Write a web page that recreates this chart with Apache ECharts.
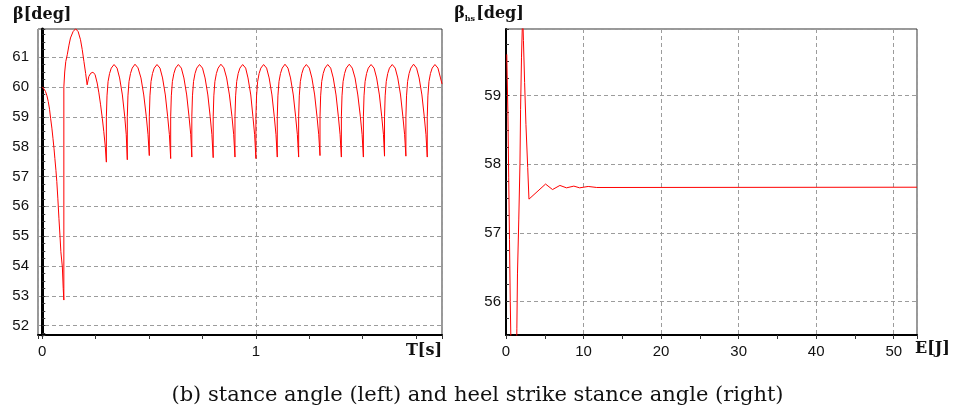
<!DOCTYPE html>
<html><head><meta charset="utf-8">
<script src="https://cdn.jsdelivr.net/npm/echarts@6/dist/echarts.min.js"></script>
<style>html,body{margin:0;padding:0;background:#fff}#c{width:955px;height:413px}</style>
</head><body><div id="c"></div>
<script>
// ---- data: stance angle beta [deg] vs time T [s] (left) ----
const stanceAngle = [
 [0,60.00],[0.008,59.93],[0.015,59.85],[0.022,59.70],[0.028,59.51],[0.034,59.25],[0.039,58.95],[0.045,58.62],[0.050,58.28],[0.055,57.93],[0.059,57.60],[0.064,57.20],[0.068,56.83],[0.073,56.25],[0.078,55.60],[0.083,55.00],[0.087,54.48],[0.094,53.97],[0.098,53.25],[0.101,52.86],
 [0.101,60.00],[0.105,60.50],[0.110,60.85],[0.117,61.08],[0.125,61.40],[0.132,61.64],[0.144,61.85],[0.156,61.95],[0.168,61.85],[0.179,61.58],[0.187,61.25],[0.195,60.85],[0.203,60.45],[0.210,60.07],[0.218,60.35],[0.227,60.46],[0.237,60.49],[0.247,60.42],[0.257,60.13],[0.265,59.80],[0.273,59.40],[0.281,58.95],[0.288,58.50],[0.295,58.00],[0.300,57.48],
 [0.300,59.00],[0.303,59.70],[0.308,60.18],[0.315,60.45],[0.323,60.63],[0.336,60.75],[0.350,60.63],[0.362,60.30],[0.375,59.73],[0.386,59.00],[0.393,58.40],[0.398,57.56],
 [0.398,59.00],[0.401,59.70],[0.406,60.18],[0.413,60.45],[0.421,60.63],[0.434,60.76],[0.448,60.64],[0.462,60.30],[0.475,59.73],[0.487,59.00],[0.495,58.40],[0.501,57.70],
 [0.501,59.00],[0.504,59.70],[0.509,60.18],[0.516,60.45],[0.524,60.63],[0.537,60.75],[0.551,60.63],[0.563,60.30],[0.576,59.73],[0.587,59.00],[0.595,58.40],[0.601,57.60],
 [0.601,59.00],[0.604,59.70],[0.609,60.18],[0.616,60.45],[0.624,60.63],[0.637,60.75],[0.651,60.63],[0.663,60.30],[0.676,59.73],[0.687,59.00],[0.695,58.40],[0.700,57.65],
 [0.700,59.00],[0.703,59.70],[0.708,60.18],[0.715,60.45],[0.723,60.63],[0.736,60.75],[0.750,60.63],[0.762,60.30],[0.775,59.73],[0.786,59.00],[0.794,58.40],[0.800,57.63],
 [0.800,59.00],[0.803,59.70],[0.808,60.18],[0.815,60.45],[0.823,60.63],[0.836,60.76],[0.850,60.64],[0.863,60.30],[0.876,59.73],[0.888,59.00],[0.896,58.40],[0.902,57.65],
 [0.902,59.00],[0.905,59.70],[0.910,60.18],[0.917,60.45],[0.925,60.63],[0.938,60.75],[0.952,60.63],[0.963,60.30],[0.976,59.73],[0.986,59.00],[0.994,58.40],[1.000,57.60],
 [1.000,59.00],[1.003,59.70],[1.008,60.18],[1.015,60.45],[1.023,60.63],[1.036,60.75],[1.050,60.63],[1.062,60.30],[1.075,59.73],[1.086,59.00],[1.094,58.40],[1.100,57.65],
 [1.100,59.00],[1.103,59.70],[1.108,60.18],[1.115,60.45],[1.123,60.63],[1.136,60.76],[1.150,60.63],[1.162,60.30],[1.175,59.73],[1.186,59.00],[1.194,58.40],[1.200,57.65],
 [1.200,59.00],[1.203,59.70],[1.208,60.18],[1.215,60.45],[1.223,60.63],[1.236,60.75],[1.250,60.63],[1.262,60.30],[1.275,59.73],[1.286,59.00],[1.294,58.40],[1.300,57.70],
 [1.300,59.00],[1.303,59.70],[1.308,60.18],[1.315,60.45],[1.323,60.63],[1.336,60.75],[1.350,60.63],[1.362,60.30],[1.375,59.73],[1.386,59.00],[1.394,58.40],[1.400,57.65],
 [1.400,59.00],[1.403,59.70],[1.408,60.18],[1.415,60.45],[1.423,60.63],[1.437,60.76],[1.451,60.63],[1.464,60.30],[1.477,59.73],[1.489,59.00],[1.497,58.40],[1.503,57.65],
 [1.503,59.00],[1.506,59.70],[1.511,60.18],[1.518,60.45],[1.526,60.63],[1.539,60.75],[1.553,60.63],[1.565,60.30],[1.578,59.73],[1.589,59.00],[1.597,58.40],[1.602,57.68],
 [1.602,59.00],[1.605,59.70],[1.610,60.18],[1.617,60.45],[1.625,60.63],[1.638,60.75],[1.652,60.63],[1.664,60.30],[1.677,59.73],[1.688,59.00],[1.696,58.40],[1.702,57.68],
 [1.702,59.00],[1.705,59.70],[1.710,60.18],[1.717,60.45],[1.725,60.63],[1.738,60.76],[1.752,60.63],[1.764,60.30],[1.777,59.73],[1.788,59.00],[1.796,58.40],[1.802,57.65],
 [1.802,59.00],[1.805,59.70],[1.810,60.18],[1.817,60.45],[1.825,60.63],[1.838,60.75],[1.852,60.63],[1.864,60.30],[1.871,60.10]
];
// ---- data: heel strike stance angle beta_hs [deg] vs energy E [J] (right) ----
const heelStrikeAngle = [
 [0.10,59.60],[0.25,58.70],[0.35,57.80],[0.45,56.90],[0.55,56.00],[0.85,53.90],[1.25,53.90],[1.40,55.60],[1.48,56.40],[1.65,57.20],[1.80,58.00],[1.88,58.80],[2.00,59.56],[2.15,60.20],[2.25,59.80],[2.40,59.19],[2.57,58.58],[2.80,57.95],[2.96,57.49],[5.10,57.71],[6.00,57.63],[6.95,57.69],[7.80,57.655],[8.75,57.68],[9.50,57.655],[10.60,57.675],[11.70,57.66],[53.0,57.664]
];
// ---- tick labels ----
const leftXLabels = [0, 1];
const leftYLabels = [52, 53, 54, 55, 56, 57, 58, 59, 60, 61];
const rightXLabels = [0, 10, 20, 30, 40, 50];
const rightYLabels = [56, 57, 58, 59];
const caption = '(b) stance angle (left) and heel strike stance angle (right)';

const near = (v, arr) => arr.some(a => Math.abs(a - v) < 1e-6);
const fmt = arr => v => near(v, arr) ? String(Math.round(v)) : '';
const split = {show: true, lineStyle: {color: '#9c9c9c', width: 1, type: [4, 3]}};
const lblStyle = {color: '#111', fontFamily: 'Liberation Sans', fontSize: 15};
const nameFont = {fontFamily: 'DejaVu Serif', fontWeight: 'bold', fontSize: 16, color: '#111'};

const chart = echarts.init(document.getElementById('c'));
chart.setOption({
  animation: false,
  title: {text: caption, left: 'center', top: 380,
    textStyle: {fontFamily: 'DejaVu Serif', fontWeight: 'normal', fontSize: 21, color: '#111'}},
  grid: [
    {left: 38, top: 29, width: 404, height: 306, show: true, borderColor: '#333', borderWidth: 1},
    {left: 506, top: 29, width: 411, height: 306, show: true, borderColor: '#333', borderWidth: 1}
  ],
  xAxis: [
    {type: 'value', gridIndex: 0, min: -0.02, max: 1.871, minInterval: 1, maxInterval: 1,
     axisLine: {show: true, lineStyle: {color: '#000', width: 2}},
     axisTick: {show: true, length: 4, lineStyle: {color: '#333'}},
     minorTick: {show: true, splitNumber: 4, length: 4, lineStyle: {color: '#333'}},
     axisLabel: Object.assign({formatter: fmt(leftXLabels), margin: 9}, lblStyle),
     splitLine: split,
     name: 'T[s]', nameLocation: 'end', nameGap: 0,
     nameTextStyle: Object.assign({align: 'right', verticalAlign: 'top', padding: [8, 0, 0, 0]}, nameFont)},
    {type: 'value', gridIndex: 1, min: 0, max: 53, interval: 10,
     axisLine: {show: true, lineStyle: {color: '#000', width: 2}},
     axisTick: {show: true, length: 4, lineStyle: {color: '#333'}},
     minorTick: {show: true, splitNumber: 2, length: 4, lineStyle: {color: '#333'}},
     axisLabel: Object.assign({formatter: fmt(rightXLabels), margin: 9}, lblStyle),
     splitLine: split,
     name: 'E[J]', nameLocation: 'end', nameGap: -2,
     nameTextStyle: Object.assign({align: 'left', verticalAlign: 'top', padding: [6, 0, 0, 0]}, nameFont)}
  ],
  yAxis: [
    {type: 'value', gridIndex: 0, min: 51.69, max: 61.94, minInterval: 1, maxInterval: 1,
     axisLine: {show: true, lineStyle: {color: '#000', width: 3}},
     axisTick: {show: true, inside: true, length: 3, lineStyle: {color: '#333'}},
     minorTick: {show: true, splitNumber: 4, length: 3, lineStyle: {color: '#333'}},
     axisLabel: Object.assign({formatter: fmt(leftYLabels), margin: 9}, lblStyle),
     splitLine: split,
     name: 'β[deg]', nameLocation: 'end', nameGap: 6,
     nameTextStyle: Object.assign({align: 'center'}, nameFont)},
    {type: 'value', gridIndex: 1, min: 55.51, max: 59.97, minInterval: 1, maxInterval: 1,
     axisLine: {show: true, lineStyle: {color: '#000', width: 2}},
     axisTick: {show: true, inside: true, length: 3, lineStyle: {color: '#333'}},
     minorTick: {show: true, splitNumber: 4, length: 3, lineStyle: {color: '#333'}},
     axisLabel: Object.assign({formatter: fmt(rightYLabels), margin: 5}, lblStyle),
     splitLine: split,
     name: '{b|β}{s|hs}{b|[deg]}', nameLocation: 'end', nameGap: 6,
     nameTextStyle: {align: 'center', padding: [0, 34, 0, 0],
       rich: {b: Object.assign({}, nameFont), s: Object.assign({}, nameFont, {fontSize: 8, padding: [10, 1, 0, 0]})}}}
  ],
  series: [
    {type: 'line', xAxisIndex: 0, yAxisIndex: 0, data: stanceAngle, showSymbol: false, clip: true,
     lineStyle: {color: '#ff0000', width: 1}, itemStyle: {color: '#ff0000'}},
    {type: 'line', xAxisIndex: 1, yAxisIndex: 1, data: heelStrikeAngle, showSymbol: false, clip: true,
     lineStyle: {color: '#ff0000', width: 1}, itemStyle: {color: '#ff0000'}}
  ]
});
</script></body></html>
